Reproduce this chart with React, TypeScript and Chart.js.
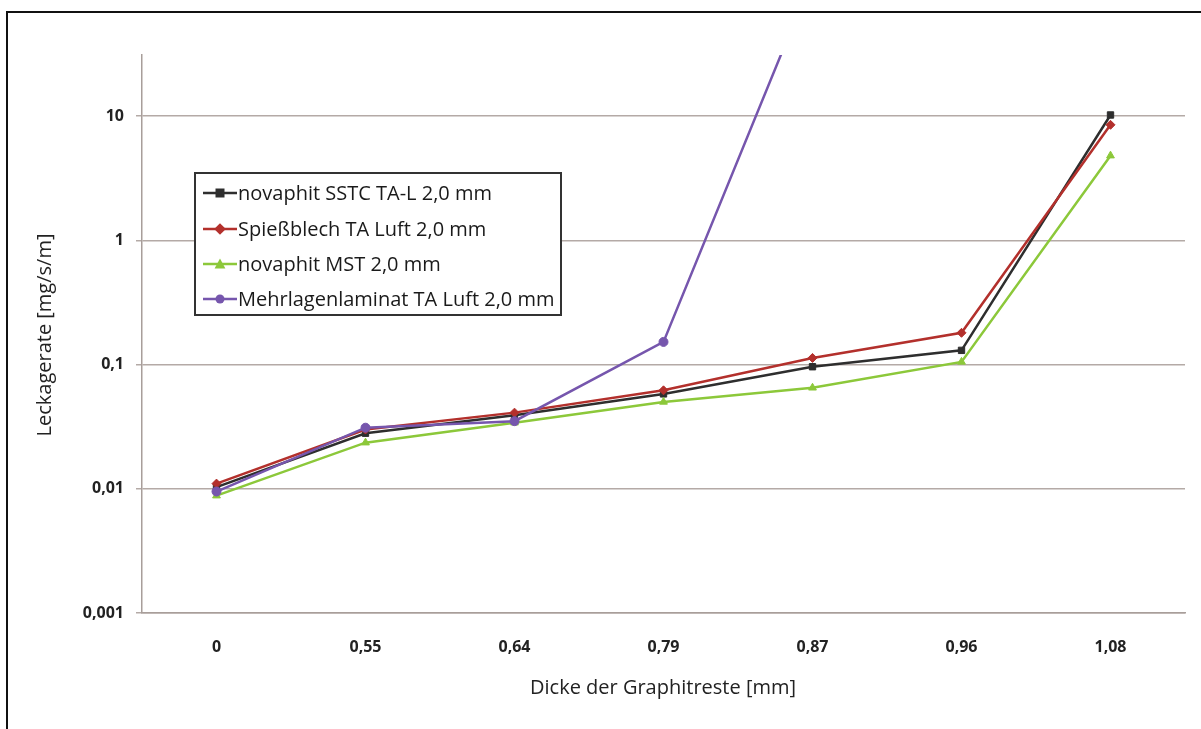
import React, { useEffect, useRef } from "react";
import { Chart, registerables } from "chart.js";

Chart.register(...registerables);

const categories = ["0", "0,55", "0,64", "0,79", "0,87", "0,96", "1,08"];
const sstcValues = [0.0103, 0.028, 0.039, 0.058, 0.096, 0.13, 10.2];
const spiessValues = [0.011, 0.03, 0.041, 0.062, 0.113, 0.18, 8.5];
const mstValues = [0.0088, 0.0235, 0.034, 0.05, 0.065, 0.105, 4.8];
const laminatValues = [0.0095, 0.031, 0.035, 0.152, 130, null, null];
const yTickValues = [0.001, 0.01, 0.1, 1, 10];
const yTickLabels = ["0,001", "0,01", "0,1", "1", "10"];
const seriesNames = [
  "novaphit SSTC TA-L 2,0 mm",
  "Spießblech TA Luft 2,0 mm",
  "novaphit MST 2,0 mm",
  "Mehrlagenlaminat TA Luft 2,0 mm",
];
const xTitle = "Dicke der Graphitreste [mm]";
const yTitle = "Leckagerate [mg/s/m]";

const colors = ["#2e2e2e", "#b3302c", "#8cc83a", "#7656ad"];
const styles = ["rect", "rectRot", "triangle", "circle"];
const FONT = "'Open Sans', 'Noto Sans', sans-serif";

const decorPlugin = {
  id: "decor",
  afterDraw(chart: any) {
    const ctx = chart.ctx;
    ctx.save();
    // outer frame
    ctx.strokeStyle = "#111";
    ctx.lineWidth = 2;
    ctx.strokeRect(7, 12, 1400, 900);

    // axis titles
    ctx.fillStyle = "#222";
    ctx.font = `20px ${FONT}`;
    ctx.textAlign = "center";
    ctx.textBaseline = "middle";
    ctx.fillText(xTitle, 663, 688);
    ctx.save();
    ctx.translate(45, 335);
    ctx.rotate(-Math.PI / 2);
    ctx.fillText(yTitle, 0, 0);
    ctx.restore();

    // legend
    const bx = 195, by = 173, bw = 366, bh = 142;
    ctx.fillStyle = "#fff";
    ctx.fillRect(bx, by, bw, bh);
    ctx.strokeStyle = "#333";
    ctx.lineWidth = 2;
    ctx.strokeRect(bx, by, bw, bh);
    const rows = [193, 229, 264, 299];
    ctx.font = `20px ${FONT}`;
    ctx.textAlign = "left";
    seriesNames.forEach((name, i) => {
      const y = rows[i];
      ctx.strokeStyle = colors[i];
      ctx.lineWidth = 2.5;
      ctx.beginPath();
      ctx.moveTo(203, y);
      ctx.lineTo(237, y);
      ctx.stroke();
      ctx.fillStyle = colors[i];
      const cx = 220, r = 4.5;
      ctx.beginPath();
      if (styles[i] === "rect") ctx.rect(cx - r, y - r, 2 * r, 2 * r);
      else if (styles[i] === "rectRot") {
        ctx.moveTo(cx, y - r * 1.3); ctx.lineTo(cx + r * 1.3, y); ctx.lineTo(cx, y + r * 1.3); ctx.lineTo(cx - r * 1.3, y); ctx.closePath();
      } else if (styles[i] === "triangle") {
        ctx.moveTo(cx, y - r * 1.2); ctx.lineTo(cx + r * 1.2, y + r); ctx.lineTo(cx - r * 1.2, y + r); ctx.closePath();
      } else ctx.arc(cx, y, r, 0, Math.PI * 2);
      ctx.fill();
      ctx.fillStyle = "#1a1a1a";
      ctx.fillText(name, 238, y + 1);
    });
    ctx.restore();
  },
};

export default function App() {
  const ref = useRef<HTMLCanvasElement>(null);
  useEffect(() => {
    const values = [sstcValues, spiessValues, mstValues, laminatValues];
    const chart = new Chart(ref.current!, {
      type: "line",
      data: {
        labels: categories,
        datasets: values.map((v, i) => ({
          label: seriesNames[i],
          data: v,
          borderColor: colors[i],
          backgroundColor: colors[i],
          borderWidth: 2.5,
          pointStyle: styles[i] as any,
          pointRadius: 4.5,
          pointBorderWidth: 1,
          tension: 0,
          spanGaps: false,
          order: 4 - i,
        })),
      },
      options: {
        animation: false,
        responsive: false,
        maintainAspectRatio: false,
        layout: { padding: { top: 55, right: 16, left: 0, bottom: 0 } },
        plugins: { legend: { display: false }, tooltip: { enabled: false } },
        scales: {
          x: {
            type: "category",
            offset: true,
            grid: { display: true, drawOnChartArea: false, drawTicks: false },
            border: { display: true, color: "#a89e9a", width: 1.5 },
            ticks: { padding: 25, color: "#222", font: { family: FONT, size: 16, weight: "bold" } },
            afterFit: (s: any) => { s.height = 116; },
          },
          y: {
            type: "logarithmic",
            min: 0.001,
            max: 31,
            afterBuildTicks: (s: any) => { s.ticks = yTickValues.map((v) => ({ value: v })); },
            grid: { color: "#b4aaa6", lineWidth: 1.5, tickLength: 6 },
            border: { display: true, color: "#a89e9a", width: 1.5 },
            ticks: {
              padding: 12,
              color: "#222",
              font: { family: FONT, size: 16, weight: "bold" },
              callback: (v: any) => { const k = yTickValues.indexOf(Number(v)); return k >= 0 ? yTickLabels[k] : ""; },
            },
            afterFit: (s: any) => { s.width = 142; },
          },
        },
      },
      plugins: [decorPlugin],
    });
    return () => chart.destroy();
  }, []);
  return (
    <div style={{ position: "fixed", left: 0, top: 0, width: 1201, height: 729, background: "#fff" }}>
      <canvas ref={ref} width={1201} height={729} style={{ width: 1201, height: 729, display: "block" }} />
    </div>
  );
}
